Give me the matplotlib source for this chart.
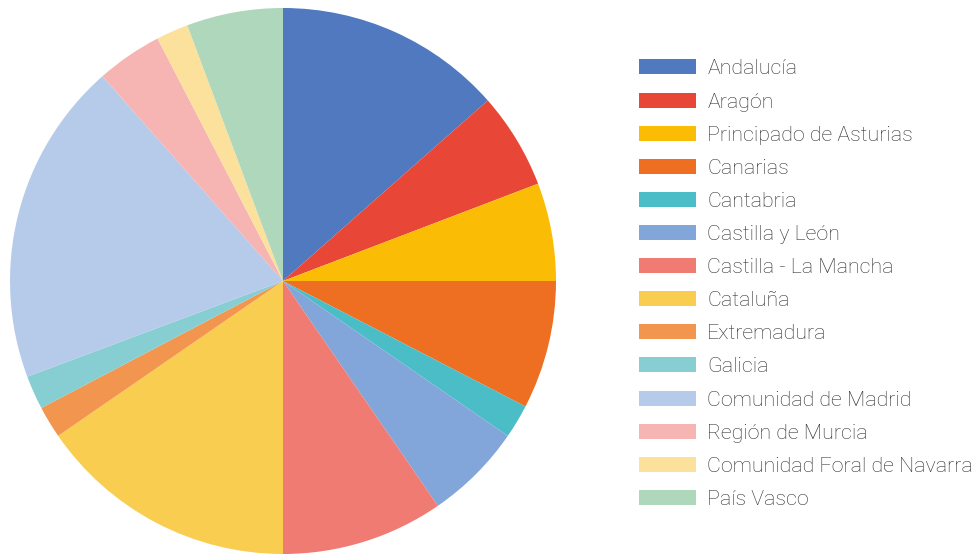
import matplotlib.pyplot as plt

regions = ["Andalucía", "Aragón", "Principado de Asturias", "Canarias",
           "Cantabria", "Castilla y León", "Castilla - La Mancha", "Cataluña",
           "Extremadura", "Galicia", "Comunidad de Madrid", "Región de Murcia",
           "Comunidad Foral de Navarra", "País Vasco"]
shares = [13.5, 5.7, 5.8, 7.6, 2.0, 5.8, 9.6, 15.4, 1.9, 2.0, 19.2, 3.9, 1.9, 5.7]
colors = ["#5079c0", "#e84636", "#fbbc05", "#ee6f21", "#4bbdc6", "#82a6da",
          "#ef7b72", "#f9cd50", "#f2964f", "#87ced3", "#b6cbea", "#f6b5b2",
          "#fce19d", "#afd7bb"]

plt.rcParams['font.family'] = ['Roboto', 'DejaVu Sans']

fig = plt.figure(figsize=(9.79, 5.55), dpi=100)
ax = fig.add_axes([10 / 979, 1 / 555, 546 / 979, 546 / 555])

wedges, _ = ax.pie(shares, colors=colors, startangle=90, counterclock=False,
                   radius=1, wedgeprops=dict(linewidth=0))
ax.set_xlim(-1, 1)
ax.set_ylim(-1, 1)
ax.set_aspect('equal')
ax.axis('off')

leg = fig.legend(wedges, regions, loc='upper left',
                 bbox_to_anchor=(633 / 979, 1 - 53 / 555),
                 frameon=False, fontsize=15.4, handlelength=2.66,
                 handleheight=0.70, handletextpad=0.51, labelspacing=0.66,
                 borderaxespad=0, borderpad=0.3)
for t in leg.get_texts():
    t.set_color('#2e2e2e')
    t.set_fontweight('light')

fig.savefig('out.png', dpi=100)
